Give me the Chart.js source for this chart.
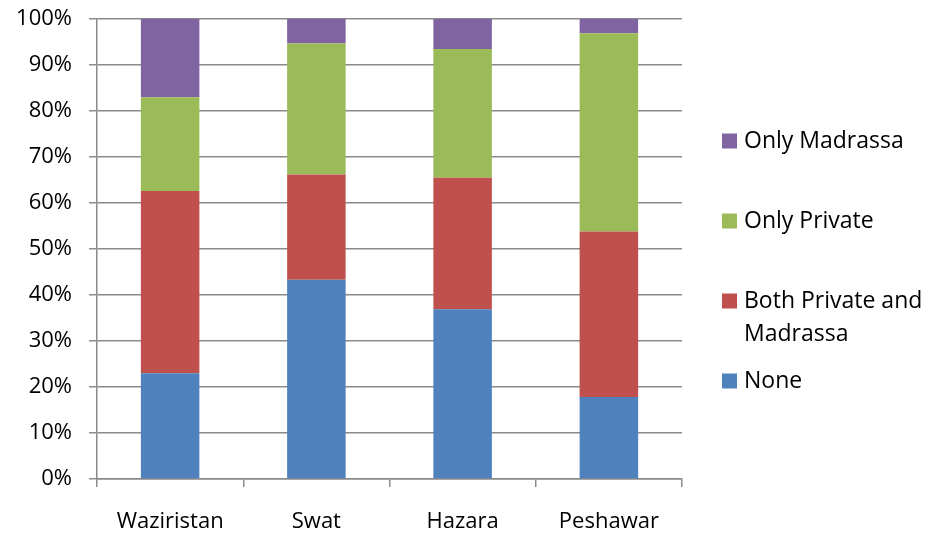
<!DOCTYPE html>
<html>
<head>
<meta charset="utf-8">
<script src="https://cdn.jsdelivr.net/npm/chart.js@4/dist/chart.umd.min.js"></script>
<style>
  html, body { margin: 0; padding: 0; background: #ffffff; }
  #wrap { width: 928px; height: 535px; position: relative; }
</style>
</head>
<body>
<div id="wrap"><canvas id="chart" width="928" height="535"></canvas></div>
<script>
// Regions surveyed
const regions = ['Waziristan', 'Swat', 'Hazara', 'Peshawar'];

// Share of households (%) in each category, per region
const noneShare      = [23.0, 43.3, 36.9, 17.8];
const bothShare      = [39.6, 22.9, 28.6, 36.0];
const privateShare   = [20.4, 28.5, 28.0, 43.1];
const madrassaShare  = [17.0,  5.3,  6.5,  3.1];

const seriesNames = ['None', 'Both Private and Madrassa', 'Only Private', 'Only Madrassa'];
const seriesColors = ['#4F81BD', '#C0504D', '#9BBB59', '#8064A2'];

const FONT = "'Open Sans', 'DejaVu Sans', sans-serif";
const AXIS_GREY = '#8a8a8a';

const seriesData = [noneShare, bothShare, privateShare, madrassaShare];

// Legend on the right, top item first (reverse stacking order)
const sideLegend = {
  id: 'sideLegend',
  afterDraw(chart) {
    const ctx = chart.ctx;
    const boxX = 722, textX = 744, firstY = 141, step = 80, box = 15, lineH = 33;
    const maxW = chart.width - textX - 2;
    ctx.save();
    ctx.font = '23px ' + FONT;
    ctx.textBaseline = 'middle';
    ctx.textAlign = 'left';
    const ds = chart.data.datasets.slice().reverse();
    ds.forEach((d, i) => {
      const cy = firstY + i * step;
      ctx.fillStyle = d.backgroundColor;
      ctx.fillRect(boxX, cy - box / 2, box, box);
      // wrap label into lines that fit the space to the right
      const words = d.label.split(' ');
      const lines = [];
      let cur = '';
      words.forEach(w => {
        const t = cur ? cur + ' ' + w : w;
        if (ctx.measureText(t).width > maxW && cur) { lines.push(cur); cur = w; }
        else cur = t;
      });
      if (cur) lines.push(cur);
      ctx.fillStyle = '#000000';
      lines.forEach((ln, k) => ctx.fillText(ln, textX, cy + k * lineH));
    });
    ctx.restore();
  }
};

new Chart(document.getElementById('chart'), {
  type: 'bar',
  data: {
    labels: regions,
    datasets: seriesNames.map((name, i) => ({
      label: name,
      data: seriesData[i],
      backgroundColor: seriesColors[i],
      borderWidth: 0,
      barPercentage: 0.4,
      categoryPercentage: 1.0
    }))
  },
  options: {
    responsive: false,
    animation: false,
    devicePixelRatio: 1,
    layout: { padding: { top: 19, right: 246, left: 0, bottom: 0 } },
    plugins: {
      legend: { display: false },
      tooltip: { enabled: false }
    },
    scales: {
      x: {
        stacked: true,
        grid: {
          offset: true,
          drawOnChartArea: false,
          drawTicks: true,
          tickLength: 8,
          color: AXIS_GREY,
          lineWidth: 1.5
        },
        border: { display: true, color: AXIS_GREY, width: 1.5 },
        ticks: {
          color: '#000000',
          font: { family: FONT, size: 22 },
          padding: 22,
          maxRotation: 0
        },
        afterFit(scale) { scale.height = 56; }
      },
      y: {
        stacked: true,
        min: 0,
        max: 100,
        grid: {
          color: AXIS_GREY,
          lineWidth: 1.5,
          drawTicks: true,
          tickLength: 8
        },
        border: { display: true, color: AXIS_GREY, width: 1.5 },
        ticks: {
          stepSize: 10,
          color: '#000000',
          font: { family: FONT, size: 22 },
          padding: 17,
          callback: v => v + '%'
        },
        afterFit(scale) {
          scale.width = 97;
          scale.paddingTop = 0;
          scale.paddingBottom = 0;
        }
      }
    }
  },
  plugins: [sideLegend]
});
</script>
</body>
</html>
